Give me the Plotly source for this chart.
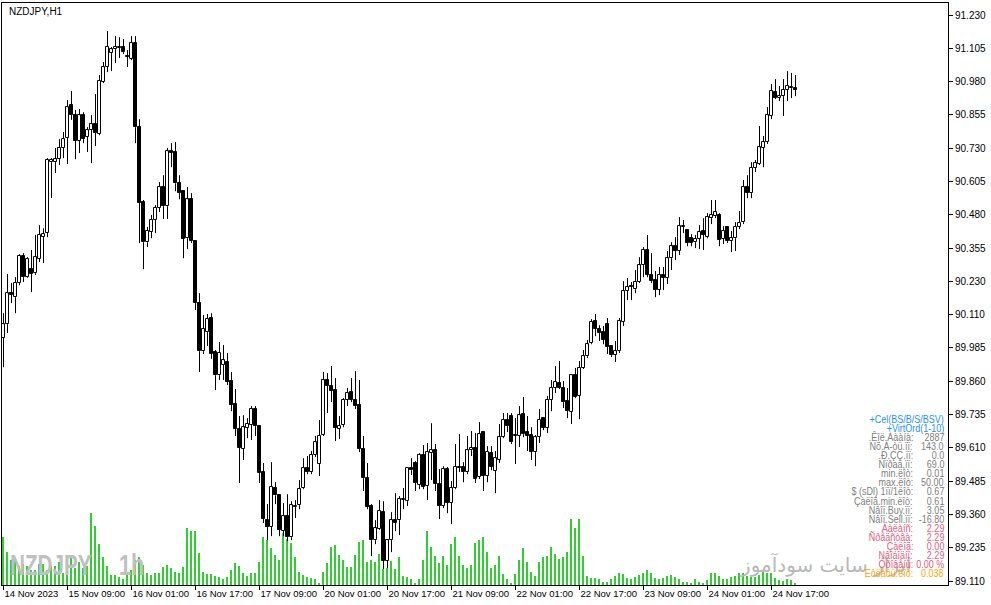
import json
import plotly.graph_objects as go
import pandas as pd
import numpy as np

# ---------------- data (NZDJPY, H1) ----------------
OPEN = [90.020, 90.072, 90.188, 90.173, 90.226, 90.327, 90.248, 90.278, 90.263, 90.316,
        90.398, 90.413, 90.679, 90.679, 90.690, 90.732, 90.769, 90.893, 90.855, 90.758,
        90.855, 90.773, 90.799, 90.822, 90.784, 90.979, 91.035, 91.087, 91.102, 91.106,
        91.110, 91.076, 91.065, 91.125, 90.810, 90.529, 90.379, 90.417, 90.462, 90.507,
        90.586, 90.514, 90.720, 90.717, 90.600, 90.570, 90.394, 90.540, 90.383, 90.151,
        89.971, 90.042, 90.095, 89.967, 89.881, 89.919, 89.930, 89.859, 89.773, 89.679,
        89.604, 89.683, 89.694, 89.754, 89.690, 89.518, 89.338, 89.312, 89.458, 89.431,
        89.297, 89.353, 89.274, 89.387, 89.394, 89.458, 89.533, 89.518, 89.582, 89.548,
        89.657, 89.863, 89.840, 89.825, 89.679, 89.694, 89.788, 89.818, 89.788, 89.769,
        89.604, 89.495, 89.391, 89.263, 89.304, 89.368, 89.185, 89.263, 89.338, 89.338,
        89.413, 89.409, 89.533, 89.552, 89.469, 89.582, 89.465, 89.589, 89.600, 89.473,
        89.391, 89.529, 89.402, 89.458, 89.533, 89.537, 89.518, 89.600, 89.608, 89.499,
        89.668, 89.503, 89.589, 89.522, 89.563, 89.649, 89.713, 89.728, 89.653, 89.653,
        89.735, 89.668, 89.657, 89.593, 89.649, 89.720, 89.683, 89.788, 89.833, 89.851,
        89.833, 89.784, 89.743, 89.881, 89.803, 89.908, 89.952, 90.001, 90.084, 90.054,
        90.042, 90.072, 89.990, 89.956, 89.971, 90.080, 90.196, 90.215, 90.203, 90.230,
        90.293, 90.350, 90.256, 90.237, 90.200, 90.256, 90.245, 90.319, 90.364, 90.346,
        90.436, 90.424, 90.394, 90.379, 90.391, 90.421, 90.398, 90.469, 90.477, 90.481,
        90.391, 90.436, 90.383, 90.394, 90.436, 90.454, 90.586, 90.563, 90.657, 90.672,
        90.732, 90.754, 90.852, 90.941, 90.919, 90.926, 90.949, 90.956, 90.956]
HIGH = [90.113, 90.260, 90.226, 90.248, 90.334, 90.338, 90.323, 90.350, 90.406, 90.443,
        90.431, 90.694, 90.694, 90.732, 90.765, 90.792, 90.911, 90.945, 90.874, 90.878,
        90.866, 90.810, 90.855, 90.934, 91.005, 91.054, 91.170, 91.110, 91.151, 91.147,
        91.140, 91.099, 91.151, 91.151, 90.840, 90.537, 90.436, 90.481, 90.518, 90.604,
        90.630, 90.732, 90.750, 90.754, 90.630, 90.574, 90.586, 90.563, 90.387, 90.188,
        90.106, 90.110, 90.113, 89.975, 90.005, 89.994, 89.964, 89.893, 89.829, 89.728,
        89.731, 89.720, 89.765, 89.765, 89.694, 89.552, 89.398, 89.555, 89.480, 89.435,
        89.402, 89.435, 89.409, 89.413, 89.488, 89.570, 89.578, 89.597, 89.653, 89.713,
        89.893, 89.889, 89.915, 89.870, 89.728, 89.795, 89.833, 89.870, 89.896, 89.863,
        89.653, 89.552, 89.398, 89.338, 89.413, 89.409, 89.267, 89.368, 89.439, 89.428,
        89.458, 89.537, 89.570, 89.559, 89.589, 89.619, 89.627, 89.701, 89.623, 89.529,
        89.540, 89.537, 89.484, 89.623, 89.660, 89.555, 89.653, 89.672, 89.664, 89.705,
        89.672, 89.615, 89.615, 89.597, 89.698, 89.739, 89.739, 89.739, 89.720, 89.765,
        89.799, 89.728, 89.686, 89.657, 89.754, 89.724, 89.803, 89.863, 89.915, 89.934,
        89.859, 89.833, 89.885, 89.908, 89.934, 89.975, 90.013, 90.091, 90.110, 90.068,
        90.065, 90.095, 89.994, 90.009, 90.095, 90.233, 90.245, 90.230, 90.275, 90.323,
        90.361, 90.406, 90.338, 90.271, 90.286, 90.286, 90.346, 90.379, 90.398, 90.473,
        90.462, 90.428, 90.409, 90.406, 90.443, 90.469, 90.488, 90.537, 90.537, 90.488,
        90.439, 90.439, 90.421, 90.454, 90.496, 90.612, 90.630, 90.679, 90.687, 90.814,
        90.777, 90.885, 90.971, 90.990, 90.964, 90.990, 91.020, 91.013, 91.005]
LOW = [89.911, 90.039, 90.151, 90.113, 90.218, 90.230, 90.245, 90.192, 90.256, 90.305,
       90.301, 90.398, 90.544, 90.638, 90.668, 90.694, 90.672, 90.837, 90.690, 90.713,
       90.750, 90.717, 90.675, 90.739, 90.780, 90.975, 91.016, 91.020, 91.050, 91.069,
       91.084, 91.035, 91.061, 90.750, 90.376, 90.278, 90.361, 90.394, 90.413, 90.492,
       90.466, 90.466, 90.660, 90.570, 90.540, 90.319, 90.353, 90.376, 90.125, 89.893,
       89.960, 89.990, 89.942, 89.825, 89.863, 89.863, 89.844, 89.746, 89.653, 89.477,
       89.563, 89.645, 89.638, 89.653, 89.477, 89.327, 89.263, 89.278, 89.398, 89.278,
       89.278, 89.259, 89.263, 89.346, 89.379, 89.454, 89.510, 89.510, 89.574, 89.503,
       89.653, 89.739, 89.780, 89.634, 89.642, 89.686, 89.765, 89.780, 89.754, 89.593,
       89.447, 89.379, 89.203, 89.248, 89.301, 89.155, 89.158, 89.218, 89.297, 89.282,
       89.379, 89.391, 89.507, 89.447, 89.454, 89.454, 89.413, 89.488, 89.447, 89.342,
       89.383, 89.364, 89.323, 89.454, 89.518, 89.480, 89.510, 89.578, 89.477, 89.492,
       89.447, 89.480, 89.525, 89.439, 89.552, 89.645, 89.668, 89.623, 89.548, 89.612,
       89.649, 89.597, 89.563, 89.540, 89.627, 89.675, 89.664, 89.746, 89.814, 89.829,
       89.758, 89.720, 89.698, 89.795, 89.716, 89.904, 89.945, 89.997, 90.027, 90.009,
       89.997, 89.960, 89.949, 89.930, 89.964, 90.065, 90.162, 90.162, 90.188, 90.226,
       90.248, 90.248, 90.226, 90.173, 90.181, 90.200, 90.222, 90.275, 90.312, 90.331,
       90.413, 90.364, 90.364, 90.357, 90.353, 90.350, 90.394, 90.447, 90.469, 90.364,
       90.372, 90.376, 90.342, 90.346, 90.428, 90.447, 90.544, 90.544, 90.642, 90.668,
       90.660, 90.747, 90.840, 90.915, 90.908, 90.852, 90.908, 90.919, 90.926]
CLOSE = [90.072, 90.188, 90.181, 90.226, 90.327, 90.248, 90.316, 90.260, 90.323, 90.406,
         90.409, 90.687, 90.687, 90.690, 90.732, 90.765, 90.885, 90.855, 90.758, 90.855,
         90.765, 90.799, 90.822, 90.788, 90.983, 91.035, 91.110, 91.102, 91.110, 91.110,
         91.091, 91.073, 91.125, 90.810, 90.526, 90.379, 90.421, 90.462, 90.507, 90.586,
         90.514, 90.720, 90.713, 90.600, 90.563, 90.391, 90.540, 90.383, 90.151, 89.971,
         90.054, 90.091, 89.960, 89.881, 89.964, 89.937, 89.855, 89.769, 89.679, 89.608,
         89.686, 89.698, 89.754, 89.690, 89.514, 89.342, 89.312, 89.462, 89.431, 89.301,
         89.353, 89.274, 89.394, 89.391, 89.454, 89.533, 89.518, 89.582, 89.630, 89.653,
         89.863, 89.840, 89.822, 89.683, 89.690, 89.788, 89.814, 89.788, 89.765, 89.604,
         89.495, 89.387, 89.263, 89.308, 89.372, 89.185, 89.263, 89.338, 89.327, 89.417,
         89.417, 89.533, 89.525, 89.477, 89.582, 89.462, 89.593, 89.600, 89.473, 89.391,
         89.529, 89.402, 89.458, 89.537, 89.537, 89.518, 89.600, 89.608, 89.492, 89.660,
         89.503, 89.593, 89.537, 89.570, 89.649, 89.713, 89.690, 89.630, 89.657, 89.731,
         89.660, 89.653, 89.593, 89.649, 89.713, 89.683, 89.788, 89.833, 89.855, 89.833,
         89.780, 89.746, 89.881, 89.799, 89.908, 89.952, 89.997, 90.080, 90.054, 90.039,
         90.013, 89.986, 89.956, 89.971, 90.084, 90.196, 90.211, 90.211, 90.230, 90.293,
         90.350, 90.256, 90.233, 90.200, 90.256, 90.245, 90.319, 90.364, 90.346, 90.439,
         90.439, 90.376, 90.376, 90.391, 90.417, 90.406, 90.473, 90.481, 90.492, 90.387,
         90.421, 90.383, 90.394, 90.436, 90.451, 90.586, 90.563, 90.657, 90.675, 90.735,
         90.754, 90.855, 90.945, 90.919, 90.926, 90.949, 90.964, 90.960, 90.949]
VOLUME = [48, 33, 25, 26, 19, 21, 19, 15, 15, 21, 21, 15, 19, 19, 23, 12, 26, 28, 17, 23,
          17, 19, 72, 59, 41, 28, 19, 10, 10, 8, 6, 12, 15, 25, 28, 20, 12, 10, 12, 12,
          18, 20, 17, 13, 12, 18, 57, 54, 54, 32, 13, 11, 11, 9, 8, 6, 8, 15, 22, 19,
          12, 9, 12, 12, 23, 48, 45, 37, 30, 25, 52, 46, 42, 28, 13, 10, 8, 7, 6, 2,
          13, 22, 38, 40, 30, 25, 18, 18, 30, 43, 45, 23, 25, 23, 31, 16, 17, 24, 16, 28,
          9, 8, 6, 2, 6, 25, 54, 38, 29, 22, 29, 20, 41, 48, 29, 20, 17, 20, 42, 45,
          48, 33, 17, 20, 29, 11, 6, 2, 11, 25, 37, 23, 13, 9, 23, 28, 29, 38, 31, 26,
          28, 33, 66, 57, 66, 29, 9, 7, 7, 6, 3, 3, 6, 9, 12, 11, 7, 6, 8, 10,
          12, 15, 12, 7, 6, 7, 9, 10, 8, 6, 3, 3, 2, 6, 3, 2, 5, 12, 12, 9,
          6, 6, 8, 9, 12, 12, 9, 8, 8, 10, 15, 12, 12, 7, 5, 4, 6, 5, 2]

FIRST_BAR = "2023-11-14 17:00"
TIME_TICK_LABELS = ["14 Nov 2023", "15 Nov 09:00", "16 Nov 01:00", "16 Nov 17:00",
                    "17 Nov 09:00", "20 Nov 01:00", "20 Nov 17:00", "21 Nov 09:00",
                    "22 Nov 01:00", "22 Nov 17:00", "23 Nov 09:00", "24 Nov 01:00",
                    "24 Nov 17:00"]
PRICE_TICK_LABELS = ["91.230", "91.105", "90.980", "90.855", "90.730", "90.605", "90.480",
                     "90.355", "90.230", "90.110", "89.985", "89.860", "89.735", "89.610",
                     "89.485", "89.360", "89.235", "89.110"]

PANEL_HEAD = ["+Cel(BS/B/S/BSV)", "+VirtOrd(1-10)"]
PANEL_LABELS = [".Êîë.Àààíà:", "Nõ.À-òü.ïï:", ".Ð.ÇÇ.ïï:", "Nïðaä,ïï:", "min.ëîò:",
                "max.ëîò:", "$ (sDl) 1ïï/1ëîò:", "Çàëîã.min.ëîò:", "Nâîï.Buy.ïï:",
                "Nâîï.Sell.ïï:", "Áàëàíñ:", "Ñðåäñòâà:", "Çàëîã:", "Nâîáîäíî:",
                "Óðîâåíü:", "Eôëåóü.ëîò:"]
PANEL_VALUES = ["2887", "143.0", "0.0", "69.0", "0.01", "50.00", "0.67", "0.61", "3.05",
                "-16.80", "2.29", "2.29", "0.00", "2.29", "0.00 %", "0.038"]

# ---------------- derived ----------------
n = len(OPEN)
times = []
t = pd.Timestamp(FIRST_BAR)
while len(times) < n:
    if t.weekday() < 5:
        times.append(t)
    t += pd.Timedelta(hours=1)
idx = np.arange(n)


def tick_label(ts, first):
    return ts.strftime("%-d %b %Y") if first else ts.strftime("%-d %b %H:%M")


lab_to_idx = {}
for i, ts in enumerate(times):
    lab_to_idx.setdefault(tick_label(ts, i == 0), i)
xtickvals = [lab_to_idx[lb] for lb in TIME_TICK_LABELS]

ytickvals = [float(v) for v in np.linspace(float(PRICE_TICK_LABELS[0]),
                                           float(PRICE_TICK_LABELS[-1]),
                                           len(PRICE_TICK_LABELS))]

o = np.array(OPEN); h = np.array(HIGH); l = np.array(LOW); c = np.array(CLOSE)
up = c >= o
top = np.maximum(o, c); bot = np.minimum(o, c)
body = np.maximum(top - bot, 0.0012)

wx, wy = [], []
for i in range(n):
    if h[i] > top[i]:
        wx += [i, i, None]; wy += [top[i], h[i], None]
    if l[i] < bot[i]:
        wx += [i, i, None]; wy += [l[i], bot[i], None]

fig = go.Figure()
fig.add_trace(go.Bar(x=idx, y=VOLUME, width=0.28,
                     marker=dict(color="#32CD32", line=dict(width=0)),
                     yaxis="y", hoverinfo="skip"))
fig.add_trace(go.Scatter(x=wx, y=wy, mode="lines", line=dict(color="black", width=1),
                         yaxis="y2", hoverinfo="skip"))
fig.add_trace(go.Bar(x=idx[up], y=body[up], base=bot[up], width=0.6, yaxis="y2",
                     marker=dict(color="white", line=dict(color="black", width=1)),
                     hoverinfo="skip"))
fig.add_trace(go.Bar(x=idx[~up], y=body[~up], base=bot[~up], width=0.6, yaxis="y2",
                     marker=dict(color="black", line=dict(color="black", width=1)),
                     hoverinfo="skip"))

W, H = 991, 605
ML, MR, MT, MB = 2, 43, 3, 20
PW, PH = W - ML - MR, H - MT - MB


def px(xp):
    return (xp - ML) / PW


def py(yp):
    return (H - MB - yp) / PH


FONT = "Liberation Sans, Arial, sans-serif"
ann = []
squeeze = []  # (horizontal scale, anchor side) per annotation
ann.append(dict(text="NZDJPY,H1", x=px(7), y=py(12), xanchor="left", yanchor="middle",
                font=dict(family=FONT, size=10, color="black")))
squeeze.append(None)
ann.append(dict(text="<b>NZDJPY</b>", x=px(8), y=py(564), xanchor="left", yanchor="middle",
                font=dict(family=FONT, size=30, color="#c0c0c0")))
squeeze.append((0.69, "l"))
ann.append(dict(text="<b>1h</b>", x=px(117), y=py(564), xanchor="left", yanchor="middle",
                font=dict(family=FONT, size=30, color="#c0c0c0")))
squeeze.append((0.72, "l"))
ann.append(dict(text="ابزار سایت سودآموز", x=px(738), y=py(564), xanchor="left",
                yanchor="middle",
                font=dict(family="DejaVu Sans, Noto Sans, sans-serif", size=20,
                          color="#b8b8b8")))
squeeze.append(None)

y0, dy = 419, 9.06
PF = 11
PS = 0.82
for k, s in enumerate(PANEL_HEAD):
    ann.append(dict(text=s, x=px(946), y=py(y0 + k * dy), xanchor="right", yanchor="middle",
                    font=dict(family=FONT, size=PF, color="#1E90FF")))
    squeeze.append((PS, "r"))
for k, (lb, vl) in enumerate(zip(PANEL_LABELS, PANEL_VALUES)):
    yy = y0 + (k + 2) * dy
    if k < 10:
        col = "#808080"
    elif k < 15:
        col = "#E0607E"
    else:
        col = "#FFA500"
    ann.append(dict(text=lb, x=px(915), y=py(yy), xanchor="right", yanchor="middle",
                    font=dict(family=FONT, size=PF, color=col)))
    squeeze.append((PS, "r"))
    ann.append(dict(text=vl, x=px(946), y=py(yy), xanchor="right", yanchor="middle",
                    font=dict(family=FONT, size=PF, color=col)))
    squeeze.append((PS, "r"))
for a in ann:
    a.update(xref="paper", yref="paper", showarrow=False)

step = (ytickvals[0] - ytickvals[-1]) / (581 - 15)
y2lo = ytickvals[-1] - step * 4
y2hi = ytickvals[0] + step * 12

fig.update_layout(
    width=W, height=H, margin=dict(l=ML, r=MR, t=MT, b=MB),
    paper_bgcolor="white", plot_bgcolor="white", showlegend=False,
    barmode="overlay", bargap=0, hovermode=False,
    xaxis=dict(range=[-0.375, 236.125], tickvals=xtickvals, ticktext=TIME_TICK_LABELS,
               ticklabelposition="outside right", tickangle=0, ticks="outside", ticklen=4,
               tickcolor="black", showline=True, mirror=True, linecolor="black",
               linewidth=1, showgrid=False, zeroline=False,
               tickfont=dict(family=FONT, size=9.5, color="black")),
    yaxis=dict(range=[0, 582], visible=False, showgrid=False, zeroline=False),
    yaxis2=dict(overlaying="y", side="right", range=[y2lo, y2hi], tickvals=ytickvals,
                ticktext=PRICE_TICK_LABELS, ticks="outside", ticklen=4, tickcolor="black",
                showline=True, mirror=True, linecolor="black", linewidth=1,
                showgrid=False, zeroline=False,
                tickfont=dict(family=FONT, size=10, color="black")),
    annotations=ann,
)

post = """
var st = document.createElement('style');
st.textContent = 'html,body{margin:0;padding:0;overflow:hidden}' +
  '.js-plotly-plot .plot path{shape-rendering:crispEdges !important}' +
  '.js-plotly-plot .plot .bars .point path{opacity:1 !important}';
document.head.appendChild(st);
var gd = document.getElementById('{plot_id}');
var SQ = %s;
gd.querySelectorAll('g.annotation').forEach(function(g){
  var i = parseInt(g.getAttribute('data-index'));
  var s = SQ[i];
  if(!s) return;
  var t = g.querySelector('text.annotation-text');
  if(!t) return;
  var b = t.getBBox();
  var ax = (s[1] === 'r') ? (b.x + b.width) : b.x;
  t.setAttribute('transform', 'translate(' + ax + ',0) scale(' + s[0] + ',1) translate(' + (-ax) + ',0)');
});
""" % json.dumps(squeeze)

fig.write_html("out.html", post_script=post, config={"displayModeBar": False})
